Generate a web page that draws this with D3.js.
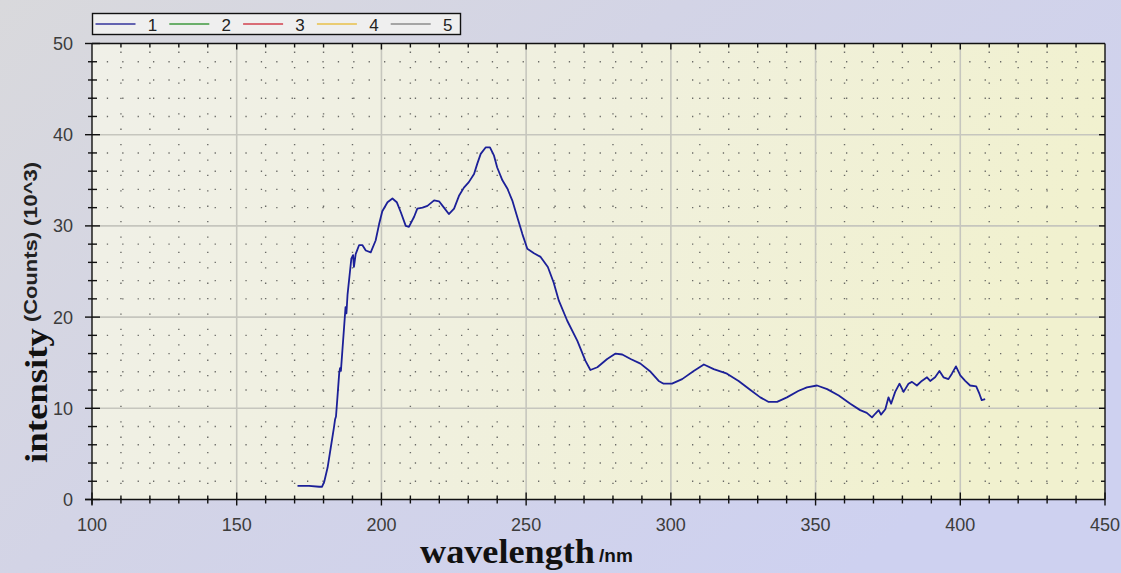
<!DOCTYPE html>
<html>
<head>
<meta charset="utf-8">
<script src="https://cdn.jsdelivr.net/npm/d3@7"></script>
<style>
  body { margin: 0; padding: 0; overflow: hidden; }
  #wrapper svg { display: block; }
</style>
</head>
<body>
<div id="wrapper"></div>
<script>
// Spectrum values
const wavelengths = [
  171.0, 175.0, 178.5, 179.5, 180.2, 181.4, 182.5, 183.6, 184.0, 184.3,
  184.8, 185.4, 185.7, 186.0, 186.5, 187.1, 187.6, 187.9, 188.3, 188.8,
  189.6, 190.2, 190.5, 191.1, 192.3, 193.4, 194.6, 196.3, 198.0, 199.2,
  200.3, 202.1, 203.8, 205.3, 206.7, 208.4, 209.5, 211.3, 212.4, 214.2,
  215.9, 218.2, 219.9, 221.6, 223.3, 225.1, 226.8, 228.5, 230.2, 232.0,
  233.1, 234.3, 236.0, 237.5, 238.9, 240.0, 241.8, 243.5, 245.2, 246.9,
  248.7, 250.4, 252.7, 255.0, 257.5, 259.5, 261.3, 264.2, 267.7, 270.5,
  272.2, 274.6, 278.0, 280.9, 283.2, 286.1, 289.5, 293.0, 295.8, 297.5,
  300.4, 303.9, 307.9, 311.4, 314.8, 319.4, 323.4, 327.5, 330.9, 333.8,
  336.7, 340.1, 344.0, 347.0, 350.5, 354.0, 358.0, 362.0, 365.4, 367.7,
  369.5, 370.6, 371.8, 372.6, 374.1, 375.2, 376.1, 377.5, 379.0, 380.4,
  382.1, 383.3, 385.0, 386.7, 388.5, 389.6, 391.3, 392.8, 394.2, 395.9,
  397.1, 398.5, 400.0, 401.7, 403.4, 405.5, 406.6, 407.4, 408.6
]
const intensities = [
  1.5, 1.5, 1.4, 1.4, 1.9, 3.5, 5.7, 7.9, 8.8, 9.1,
  11.2, 13.8, 14.4, 14.1, 16.3, 18.9, 21.1, 20.4, 22.5, 24.0,
  26.4, 26.8, 25.5, 26.9, 27.9, 27.9, 27.3, 27.1, 28.4, 30.2,
  31.6, 32.6, 33.0, 32.6, 31.5, 30.0, 29.9, 31.0, 31.9, 32.0,
  32.2, 32.8, 32.7, 32.0, 31.3, 31.9, 33.3, 34.2, 34.8, 35.7,
  36.8, 37.9, 38.6, 38.6, 37.7, 36.4, 35.0, 34.1, 32.8, 31.0,
  29.1, 27.5, 27.0, 26.6, 25.5, 23.8, 21.8, 19.6, 17.4, 15.2,
  14.2, 14.5, 15.4, 16.0, 15.9, 15.4, 14.9, 14.0, 13.0, 12.7,
  12.7, 13.2, 14.1, 14.8, 14.3, 13.8, 13.0, 12.0, 11.2, 10.7,
  10.7, 11.2, 11.9, 12.3, 12.5, 12.1, 11.4, 10.5, 9.8, 9.5,
  9.0, 9.4, 9.8, 9.3, 9.9, 11.2, 10.5, 11.8, 12.7, 11.8,
  12.7, 12.9, 12.5, 13.0, 13.4, 13.0, 13.4, 14.1, 13.4, 13.2,
  13.8, 14.6, 13.6, 13.0, 12.5, 12.4, 11.6, 10.9, 11.0
]

// Axes and legend
const xMajorTicks = [100, 150, 200, 250, 300, 350, 400, 450]
const yMajorTicks = [0, 10, 20, 30, 40, 50]
const legendNames = ["1", "2", "3", "4", "5"]
const legendColors = ["#34349c", "#3f9a3f", "#d2404e", "#e8c04a", "#8c8c8c"]
const lineColor = "#1c2098"

const dataset = wavelengths.map((w, i) => ({ wl: w, val: intensities[i] }))
const xAccessor = d => d.wl
const yAccessor = d => d.val

let dimensions = {
  width: 1121,
  height: 573,
  margin: { top: 43.5, right: 16, bottom: 73.5, left: 92 },
}
dimensions.boundedWidth = dimensions.width - dimensions.margin.left - dimensions.margin.right
dimensions.boundedHeight = dimensions.height - dimensions.margin.top - dimensions.margin.bottom

const wrapper = d3.select("#wrapper")
  .append("svg")
  .attr("width", dimensions.width)
  .attr("height", dimensions.height)

const defs = wrapper.append("defs")
const bgGrad = defs.append("linearGradient")
  .attr("id", "bgGrad")
  .attr("x1", "0%").attr("y1", "0%").attr("x2", "100%").attr("y2", "60%")
bgGrad.append("stop").attr("offset", "0%").attr("stop-color", "#d9d9dc")
bgGrad.append("stop").attr("offset", "45%").attr("stop-color", "#d3d4e6")
bgGrad.append("stop").attr("offset", "100%").attr("stop-color", "#ced1f0")

const plotGrad = defs.append("linearGradient")
  .attr("id", "plotGrad")
  .attr("x1", "0%").attr("y1", "0%").attr("x2", "100%").attr("y2", "20%")
plotGrad.append("stop").attr("offset", "0%").attr("stop-color", "#f0f0e8")
plotGrad.append("stop").attr("offset", "50%").attr("stop-color", "#f0f0de")
plotGrad.append("stop").attr("offset", "100%").attr("stop-color", "#f1f1cf")

wrapper.append("rect")
  .attr("width", dimensions.width)
  .attr("height", dimensions.height)
  .attr("fill", "url(#bgGrad)")

const bounds = wrapper.append("g")
  .attr("transform", `translate(${dimensions.margin.left}, ${dimensions.margin.top})`)

// Scales
const xScale = d3.scaleLinear()
  .domain([100, 450])
  .range([0, dimensions.boundedWidth])

const yScale = d3.scaleLinear()
  .domain([0, 50])
  .range([dimensions.boundedHeight, 0])

bounds.append("rect")
  .attr("width", dimensions.boundedWidth)
  .attr("height", dimensions.boundedHeight)
  .attr("fill", "url(#plotGrad)")

// Minor dotted grid
const xMinor = d3.range(110, 450, 10).filter(v => v % 50 !== 0)
const yMinor = d3.range(2, 50, 2).filter(v => v % 10 !== 0)

bounds.append("g")
  .selectAll("line")
  .data(xMinor)
  .join("line")
    .attr("x1", d => xScale(d)).attr("x2", d => xScale(d))
    .attr("y1", dimensions.boundedHeight).attr("y2", 0)
    .attr("stroke", "#6a6a66")
    .attr("stroke-width", 1.4)
    .attr("stroke-dasharray", "1.3,14.1")
    .attr("stroke-dashoffset", -15.4)

bounds.append("g")
  .selectAll("line")
  .data(yMinor)
  .join("line")
    .attr("x1", 0).attr("x2", dimensions.boundedWidth)
    .attr("y1", d => yScale(d)).attr("y2", d => yScale(d))
    .attr("stroke", "#6a6a66")
    .attr("stroke-width", 1.4)
    .attr("stroke-dasharray", "1.3,14.1")
    .attr("stroke-dashoffset", -14.8)

// Major grid
bounds.append("g")
  .selectAll("line")
  .data(xMajorTicks.slice(1, -1))
  .join("line")
    .attr("x1", d => xScale(d)).attr("x2", d => xScale(d))
    .attr("y1", 0).attr("y2", dimensions.boundedHeight)
    .attr("stroke", "#c6c6be")
    .attr("stroke-width", 1.6)

bounds.append("g")
  .selectAll("line")
  .data(yMajorTicks.slice(1, -1))
  .join("line")
    .attr("x1", 0).attr("x2", dimensions.boundedWidth)
    .attr("y1", d => yScale(d)).attr("y2", d => yScale(d))
    .attr("stroke", "#c6c6be")
    .attr("stroke-width", 1.6)

// Data line
const lineGenerator = d3.line()
  .x(d => xScale(xAccessor(d)))
  .y(d => yScale(yAccessor(d)))

bounds.append("path")
  .datum(dataset)
  .attr("d", lineGenerator)
  .attr("fill", "none")
  .attr("stroke", lineColor)
  .attr("stroke-width", 1.8)
  .attr("stroke-linejoin", "round")

// Frame: top and right with inward ticks
const frame = bounds.append("g").attr("stroke", "#111").attr("stroke-width", 1.4)
frame.append("line")
  .attr("x1", 0).attr("x2", dimensions.boundedWidth)
  .attr("y1", 0).attr("y2", 0)
frame.append("line")
  .attr("x1", dimensions.boundedWidth).attr("x2", dimensions.boundedWidth)
  .attr("y1", 0).attr("y2", dimensions.boundedHeight)
frame.selectAll(".topTick")
  .data(d3.range(110, 450, 10))
  .join("line")
    .attr("x1", d => xScale(d)).attr("x2", d => xScale(d))
    .attr("y1", 0).attr("y2", d => d % 50 === 0 ? 6 : 4)
frame.selectAll(".rightTick")
  .data(d3.range(2, 50, 2))
  .join("line")
    .attr("x1", dimensions.boundedWidth)
    .attr("x2", d => dimensions.boundedWidth - (d % 10 === 0 ? 6 : 4))
    .attr("y1", d => yScale(d)).attr("y2", d => yScale(d))

// x-axis
const xAxisGroup = bounds.append("g")
  .attr("transform", `translate(0, ${dimensions.boundedHeight})`)
xAxisGroup.append("line")
  .attr("x1", -7).attr("x2", dimensions.boundedWidth)
  .attr("stroke", "#111").attr("stroke-width", 1.4)
xAxisGroup.selectAll(".tick")
  .data(d3.range(100, 451, 10))
  .join("line")
    .attr("x1", d => xScale(d)).attr("x2", d => xScale(d))
    .attr("y1", d => d % 50 === 0 ? -7 : -4)
    .attr("y2", d => d % 50 === 0 ? 6 : 4)
    .attr("stroke", "#111").attr("stroke-width", 1.4)
xAxisGroup.selectAll("text")
  .data(xMajorTicks)
  .join("text")
    .attr("x", d => xScale(d))
    .attr("y", 31)
    .attr("text-anchor", "middle")
    .attr("font-family", "Liberation Sans, Arial, sans-serif")
    .attr("font-size", 18)
    .attr("fill", "#3c3c3c")
    .text(d => d)

// y-axis
const yAxisGroup = bounds.append("g")
yAxisGroup.append("line")
  .attr("y1", 0).attr("y2", dimensions.boundedHeight + 5)
  .attr("stroke", "#111").attr("stroke-width", 1.4)
yAxisGroup.selectAll(".tick")
  .data(d3.range(0, 51, 2))
  .join("line")
    .attr("y1", d => yScale(d)).attr("y2", d => yScale(d))
    .attr("x1", d => d % 10 === 0 ? -7 : -4)
    .attr("x2", d => d % 10 === 0 ? 8 : 5)
    .attr("stroke", "#111").attr("stroke-width", 1.4)
yAxisGroup.selectAll("text")
  .data(yMajorTicks)
  .join("text")
    .attr("x", -19)
    .attr("y", d => yScale(d) + 6.5)
    .attr("text-anchor", "end")
    .attr("font-family", "Liberation Sans, Arial, sans-serif")
    .attr("font-size", 18)
    .attr("fill", "#3c3c3c")
    .text(d => d)

// Axis titles
wrapper.append("text")
  .attr("x", 420)
  .attr("y", 563)
  .attr("font-family", "Liberation Serif, Times New Roman, serif")
  .attr("font-weight", "bold")
  .attr("font-size", 34)
  .attr("textLength", 175)
  .attr("lengthAdjust", "spacingAndGlyphs")
  .attr("fill", "#111")
  .text("wavelength")
wrapper.append("text")
  .attr("x", 599)
  .attr("y", 562)
  .attr("font-family", "Liberation Sans, Arial, sans-serif")
  .attr("font-weight", "bold")
  .attr("font-size", 19)
  .attr("fill", "#111")
  .text("/nm")

const yTitle = wrapper.append("g")
  .attr("transform", "translate(47, 463) rotate(-90)")
yTitle.append("text")
  .attr("x", 0).attr("y", 0)
  .attr("font-family", "Liberation Serif, Times New Roman, serif")
  .attr("font-weight", "bold")
  .attr("font-size", 32)
  .attr("textLength", 135)
  .attr("lengthAdjust", "spacingAndGlyphs")
  .attr("fill", "#111")
  .text("intensity")
wrapper.append("text")
  .attr("transform", "translate(37, 322) rotate(-90)")
  .attr("font-family", "Liberation Sans, Arial, sans-serif")
  .attr("font-weight", "bold")
  .attr("font-size", 19)
  .attr("textLength", 160)
  .attr("lengthAdjust", "spacingAndGlyphs")
  .attr("fill", "#222")
  .text("(Counts) (10^3)")

// Legend
const legend = wrapper.append("g").attr("transform", "translate(92.5, 13.5)")
legend.append("rect")
  .attr("width", 368)
  .attr("height", 21)
  .attr("fill", "#efefef")
  .attr("stroke", "#111")
  .attr("stroke-width", 1.4)
const legendItems = legend.selectAll("g")
  .data(legendNames)
  .join("g")
    .attr("transform", (d, i) => `translate(${3 + i * 73.8}, 0)`)
legendItems.append("line")
  .attr("x1", 0).attr("x2", 40)
  .attr("y1", 10.5).attr("y2", 10.5)
  .attr("stroke", (d, i) => legendColors[i])
  .attr("stroke-width", 1.6)
legendItems.append("text")
  .attr("x", 57)
  .attr("y", 17)
  .attr("text-anchor", "middle")
  .attr("font-family", "Liberation Sans, Arial, sans-serif")
  .attr("font-size", 17)
  .attr("fill", "#222")
  .text(d => d)
</script>
</body>
</html>
